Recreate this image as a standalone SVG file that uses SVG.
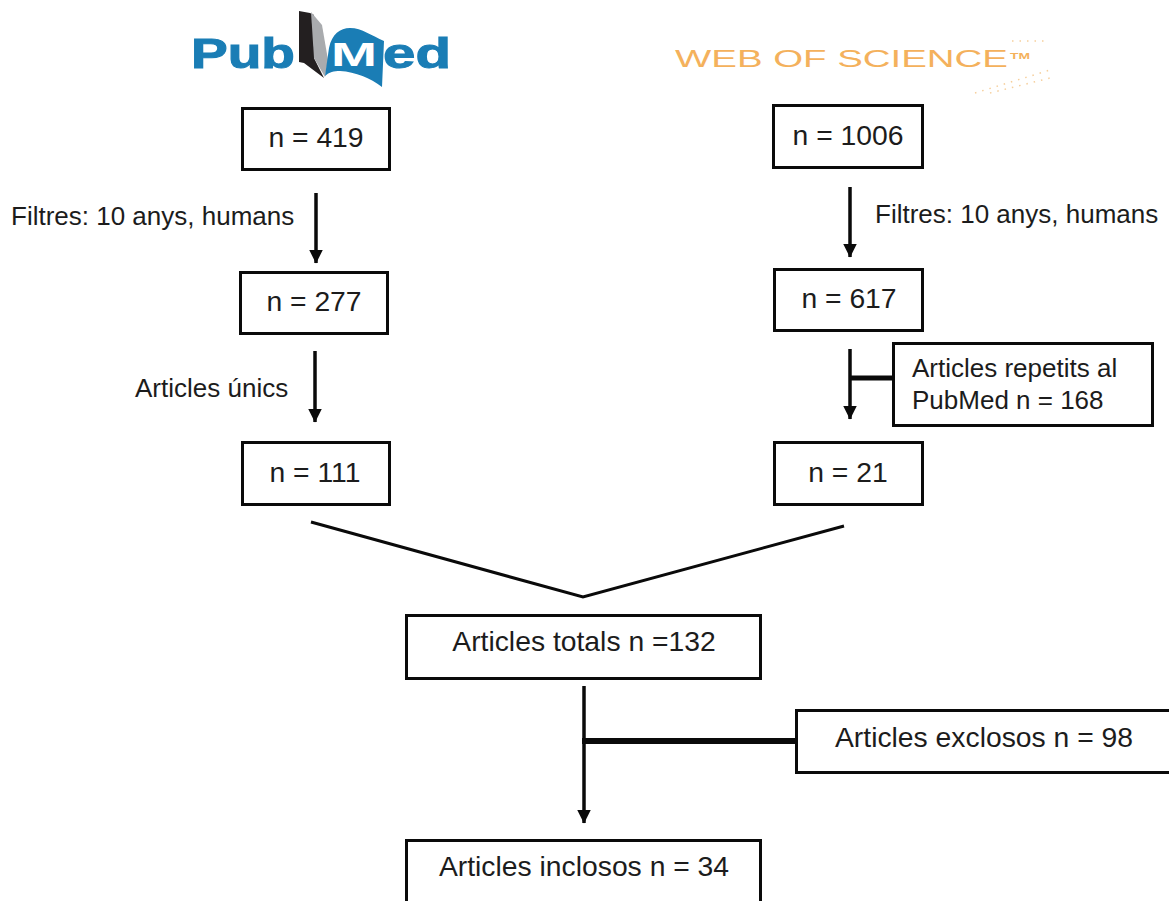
<svg xmlns="http://www.w3.org/2000/svg" width="1169" height="901" viewBox="0 0 1169 901">
<style>
text{font-family:"Liberation Sans",Arial,sans-serif;fill:#1c1c1c}
.t{font-size:28.3px}
.s{font-size:26px}
.m{text-anchor:middle}
rect.b{fill:#fff;stroke:#0a0a0a;stroke-width:3}
.c line,.c polyline{stroke:#0a0a0a;stroke-width:3.500;fill:none}
.c polyline{stroke-width:3}
.c .h{stroke-width:5}
.logo{font-weight:700;fill:#1a7db5;font-size:43px;stroke:#1a7db5;stroke-width:1}
.wos{fill:#f4b15c;font-size:24px}
</style>
<defs>
<marker id="a" viewBox="0 0 14 14" refX="13.5" refY="7" markerUnits="userSpaceOnUse" markerWidth="14" markerHeight="14" orient="auto"><path d="M0 0L14 7L0 14Z" fill="#0a0a0a"/></marker>
</defs>
<rect width="1169" height="901" fill="#fff"/>
<g id="pubmed-logo">
<text class="logo" x="191" y="68" textLength="104" lengthAdjust="spacingAndGlyphs">Pub</text>
<path d="M299 11L310 13L314 15V58L324 78L304 63L299 62Z" fill="#231f20"/>
<path d="M311 12L322 25L328 60L325 77L314 58Z" fill="#a9abae"/>
<path d="M325 76L329 48C332 34 340 28 350 28C362 28 372 36 384 41L382 87C370 78 356 72 340 71C334 71 329 72 325 76Z" fill="#1a7db5"/>
<text x="331" y="66" font-size="34" font-weight="700" style="fill:#fff" textLength="46" lengthAdjust="spacingAndGlyphs">M</text>
<text class="logo" x="383" y="68" textLength="68" lengthAdjust="spacingAndGlyphs">ed</text>
</g>
<g id="wos-logo">
<text class="wos" x="675" y="67" textLength="333" lengthAdjust="spacingAndGlyphs">WEB OF SCIENCE</text>
<text x="1010" y="59" font-size="9" font-weight="700" style="fill:#f4b15c" textLength="20" lengthAdjust="spacingAndGlyphs">TM</text>
<path d="M975 93L1050 70M990 93L1050 78M1012 41H1045" stroke="#f6cf9c" stroke-width="1.500" stroke-dasharray="1.500 6" fill="none"/>
</g>
<g class="c" id="connectors">
<line x1="316" y1="193" x2="316" y2="263" marker-end="url(#a)"/>
<line x1="850" y1="187" x2="850" y2="257" marker-end="url(#a)"/>
<line x1="315" y1="351" x2="315" y2="422" marker-end="url(#a)"/>
<line x1="850" y1="349" x2="850" y2="419" marker-end="url(#a)"/>
<line class="h" x1="850" y1="378" x2="896" y2="378"/>
<polyline points="311,522 583,597 844,526"/>
<line x1="584" y1="686" x2="584" y2="823" marker-end="url(#a)"/>
<line class="h" x1="582" y1="741" x2="798" y2="741" style="stroke-width:6"/>
</g>
<g id="n419"><rect class="b" x="242.500" y="108.500" width="147" height="61"/><text class="t m" x="316" y="147">n = 419</text></g>
<g id="n1006"><rect class="b" x="773.500" y="105.500" width="149" height="62"/><text class="t m" x="848" y="145">n = 1006</text></g>
<g id="n277"><rect class="b" x="240.500" y="272.500" width="147" height="61"/><text class="t m" x="314" y="311">n = 277</text></g>
<g id="n617"><rect class="b" x="774.500" y="269.500" width="148" height="61"/><text class="t m" x="849" y="308">n = 617</text></g>
<g id="n111"><rect class="b" x="242.500" y="442.500" width="147" height="62"/><text class="t m" x="315" y="482">n = 111</text></g>
<g id="n21"><rect class="b" x="774.500" y="442.500" width="148" height="62"/><text class="t m" x="848" y="482">n = 21</text></g>
<g id="repetits"><rect class="b" x="893.500" y="343.500" width="259" height="82"/><text class="s" x="912" y="377">Articles repetits al</text><text class="s" x="912" y="409">PubMed n = 168</text></g>
<g id="totals"><rect class="b" x="406.500" y="615.500" width="354" height="63"/><text class="t m" x="584" y="651">Articles totals n =132</text></g>
<g id="exclosos"><rect class="b" x="796.500" y="710.500" width="374" height="62"/><text class="t m" x="984" y="747">Articles exclosos n = 98</text></g>
<g id="inclosos"><rect class="b" x="406.500" y="840.500" width="354" height="63"/><text class="t m" x="584" y="876">Articles inclosos n = 34</text></g>
<g id="labels">
<text class="s" x="11" y="225">Filtres: 10 anys, humans</text>
<text class="s" x="875" y="223">Filtres: 10 anys, humans</text>
<text class="s" x="135" y="397">Articles únics</text>
</g>
</svg>
